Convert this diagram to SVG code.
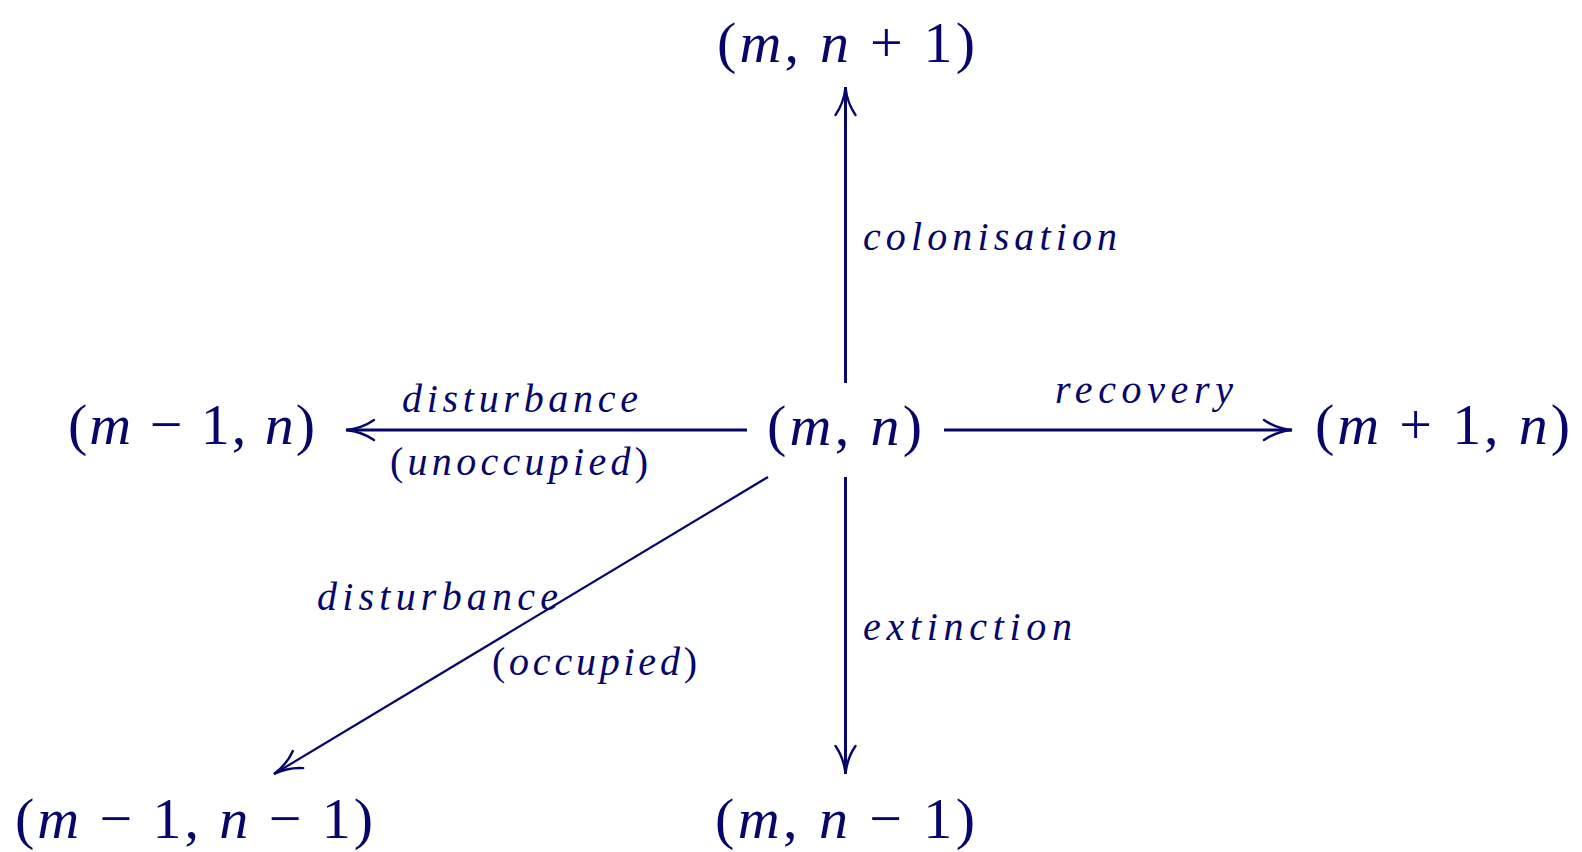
<svg xmlns="http://www.w3.org/2000/svg" width="1582" height="852" viewBox="0 0 1582 852">
  <style>
    .node { font-family: "Liberation Serif", "DejaVu Serif", serif; font-size: 58px; fill: #06066b; }
    .lbl { font-family: "Liberation Serif", "DejaVu Serif", serif; font-size: 40px; fill: #06066b; font-style: italic; }
    .it { font-style: italic; }
    .up { font-style: normal; }
    .edge { stroke: #06066b; fill: none; stroke-width: 3; }
    .thin { stroke-width: 2.2; }
  </style>
  <defs>
    <marker id="to" markerUnits="userSpaceOnUse" markerWidth="40" markerHeight="30" viewBox="-32 -15 36 30" refX="0" refY="0" orient="auto" overflow="visible">
      <path d="M -28 -10 C -18 -3, -8 -0.8, 0 0 C -8 0.8, -18 3, -28 10" stroke="#06066b" stroke-width="2.4" fill="none" stroke-linecap="round"/>
    </marker>
  </defs>
  <rect width="1582" height="852" fill="#ffffff"/>

  <g id="connectors">
    <line class="edge" x1="845.5" y1="383" x2="845.5" y2="87" marker-end="url(#to)"/>
    <line class="edge" x1="747" y1="430" x2="346" y2="430" marker-end="url(#to)"/>
    <line class="edge" x1="944" y1="430" x2="1292" y2="430" marker-end="url(#to)"/>
    <line class="edge" x1="845.5" y1="477" x2="845.5" y2="774" marker-end="url(#to)"/>
    <line class="edge thin" x1="768" y1="477" x2="274" y2="774" marker-end="url(#to)"/>
  </g>

  <g id="node-top">
    <text class="node" x="717" y="62" textLength="258" lengthAdjust="spacing">(<tspan class="it">m</tspan>, <tspan class="it">n</tspan> + 1)</text>
  </g>
  <g id="node-center">
    <text class="node" x="767" y="445" textLength="155" lengthAdjust="spacing">(<tspan class="it">m</tspan>, <tspan class="it">n</tspan>)</text>
  </g>
  <g id="node-left">
    <text class="node" x="68" y="444" textLength="247" lengthAdjust="spacing">(<tspan class="it">m</tspan> − 1, <tspan class="it">n</tspan>)</text>
  </g>
  <g id="node-right">
    <text class="node" x="1315" y="444" textLength="255" lengthAdjust="spacing">(<tspan class="it">m</tspan> + 1, <tspan class="it">n</tspan>)</text>
  </g>
  <g id="node-bottom">
    <text class="node" x="715" y="838" textLength="260" lengthAdjust="spacing">(<tspan class="it">m</tspan>, <tspan class="it">n</tspan> − 1)</text>
  </g>
  <g id="node-bottom-left">
    <text class="node" x="15" y="838" textLength="358" lengthAdjust="spacing">(<tspan class="it">m</tspan> − 1, <tspan class="it">n</tspan> − 1)</text>
  </g>

  <g id="labels">
    <text class="lbl" x="863" y="250" textLength="254" lengthAdjust="spacing">colonisation</text>
    <text class="lbl" x="402" y="412" textLength="236" lengthAdjust="spacing">disturbance</text>
    <text class="lbl" x="390" y="475" textLength="258" lengthAdjust="spacing"><tspan class="up">(</tspan>unoccupied<tspan class="up">)</tspan></text>
    <text class="lbl" x="1055" y="403" textLength="178" lengthAdjust="spacing">recovery</text>
    <text class="lbl" x="863" y="640" textLength="209" lengthAdjust="spacing">extinction</text>
    <text class="lbl" x="317" y="610" textLength="241" lengthAdjust="spacing">disturbance</text>
    <text class="lbl" x="492" y="675" textLength="205" lengthAdjust="spacing"><tspan class="up">(</tspan>occupied<tspan class="up">)</tspan></text>
  </g>
</svg>
